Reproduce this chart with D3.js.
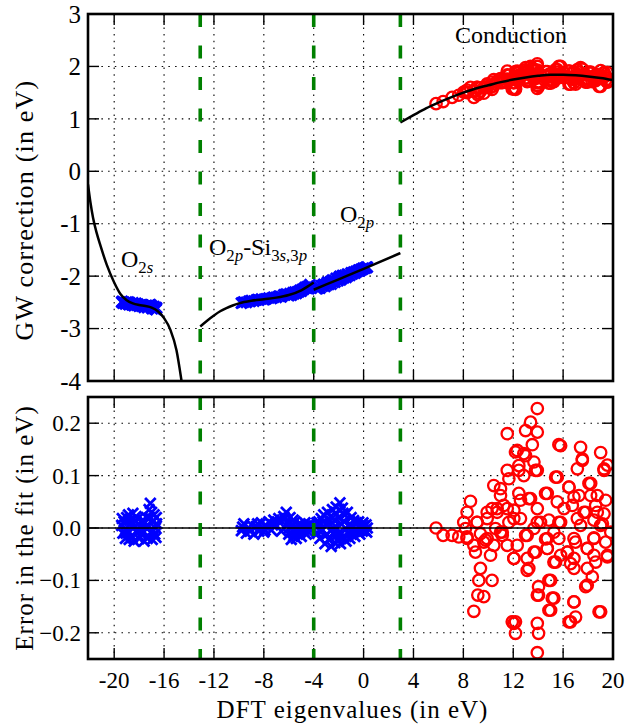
<!DOCTYPE html>
<html><head><meta charset="utf-8">
<script src="https://cdn.jsdelivr.net/npm/d3@7"></script>
<style>body{margin:0;background:#fff}</style>
</head><body><svg id="c" width="639" height="725"></svg>
<script>
// ---------- data ----------
const xTicks = [-20,-16,-12,-8,-4,0,4,8,12,16,20];
const gwTicks = [3,2,1,0,-1,-2,-3,-4];
const errTicks = [0.2,0.1,0.0,-0.1,-0.2];
const regionBounds = [-13.1,-4.0,2.95];

// fitted curves [DFT eigenvalue, GW correction]
const fitO2s = [[-22.1,-0.25],[-21.9,-0.6],[-21.7,-0.88],[-21.4,-1.18],[-21.1,-1.42],[-20.6,-1.78],[-20.0,-2.12],[-19.5,-2.34],[-19.0,-2.46],[-18.5,-2.52],[-18.0,-2.55],[-17.5,-2.57],[-17.0,-2.6],[-16.5,-2.67],[-16.0,-2.8],[-15.5,-3.02],[-15.0,-3.42],[-14.6,-4.0],[-14.3,-4.5]];
const fitO2pSi = [[-13.1,-2.96],[-12.5,-2.84],[-12.0,-2.75],[-11.5,-2.67],[-11.0,-2.61],[-10.5,-2.56],[-10.0,-2.52],[-9.0,-2.47],[-8.0,-2.44],[-7.0,-2.41],[-6.0,-2.36],[-5.0,-2.27],[-4.5,-2.2],[-4.0,-2.12]];
const fitO2p = [[-4.0,-2.26],[-2.0,-2.06],[0.0,-1.86],[2.95,-1.56]];
const fitCond = [[2.95,0.93],[4,1.07],[5,1.2],[6,1.31],[7,1.41],[8,1.5],[9,1.58],[10,1.64],[11,1.7],[12,1.75],[13,1.79],[14,1.82],[15,1.84],[16,1.84],[17,1.83],[18,1.81],[19,1.78],[20,1.74]];

// points [DFT eigenvalue, GW correction, error in fit]
const o2sPts = [[-19.4,-2.495,0.005],[-19.35,-2.482,0.018],[-19.3,-2.515,-0.01],[-19.2,-2.498,0.012],[-19.1,-2.53,-0.02],[-19.05,-2.523,-0.01],[-19.0,-2.495,0.02],[-18.9,-2.525,-0.005],[-18.85,-2.495,0.025],[-18.8,-2.547,-0.022],[-18.75,-2.51,0.015],[-18.7,-2.522,0.008],[-18.6,-2.545,-0.015],[-18.55,-2.55,-0.018],[-18.5,-2.507,0.028],[-18.45,-2.535,0.0],[-18.4,-2.565,-0.025],[-18.3,-2.528,0.012],[-18.25,-2.52,0.022],[-18.2,-2.553,-0.008],[-18.1,-2.532,0.018],[-18.0,-2.575,-0.02],[-17.95,-2.56,-0.005],[-17.9,-2.555,0.005],[-17.8,-2.572,-0.012],[-17.7,-2.55,0.015],[-17.65,-2.557,0.008],[-17.6,-2.595,-0.025],[-17.5,-2.57,0.002],[-17.4,-2.555,0.02],[-17.35,-2.597,-0.02],[-17.3,-2.595,-0.015],[-17.2,-2.55,0.035],[-17.15,-2.57,0.02],[-17.1,-2.543,0.047],[-17.05,-2.598,-0.008],[-17.0,-2.565,0.03],[-16.95,-2.622,-0.022],[-16.9,-2.588,0.012],[-16.85,-2.612,-0.005],[-16.8,-2.58,0.025],[-16.75,-2.622,-0.012],[-16.7,-2.615,0.0],[-16.65,-2.638,-0.018],[-16.62,-2.60,0.02],[-16.6,-2.612,0.008]];
const o2pSiPts = [[-9.8,-2.515,-0.005],[-9.7,-2.503,0.002],[-9.6,-2.492,0.008],[-9.4,-2.50,-0.01],[-9.2,-2.48,0.0],[-9.1,-2.481,-0.006],[-9.0,-2.464,0.006],[-8.8,-2.476,-0.012],[-8.6,-2.455,0.003],[-8.5,-2.447,0.008],[-8.4,-2.458,-0.006],[-8.2,-2.436,0.01],[-8.0,-2.448,-0.008],[-7.9,-2.441,-0.004],[-7.8,-2.43,0.004],[-7.6,-2.416,0.012],[-7.4,-2.426,-0.004],[-7.3,-2.413,0.006],[-7.2,-2.401,0.015],[-7.0,-2.405,0.005],[-6.8,-2.382,0.018],[-6.7,-2.385,0.01],[-6.6,-2.396,-0.006],[-6.4,-2.358,0.022],[-6.3,-2.357,0.018],[-6.2,-2.34,0.03],[-6.1,-2.355,0.01],[-6.0,-2.372,-0.012],[-5.95,-2.356,0.0],[-5.9,-2.332,0.02],[-5.8,-2.366,-0.022],[-5.7,-2.33,0.005],[-5.65,-2.315,0.015],[-5.6,-2.341,-0.015],[-5.5,-2.305,0.012],[-5.4,-2.328,-0.02],[-5.35,-2.311,-0.008],[-5.3,-2.299,0.0],[-5.2,-2.30,-0.01],[-5.1,-2.272,0.008],[-5.0,-2.286,-0.016],[-4.95,-2.263,0.0],[-4.9,-2.252,0.004],[-4.8,-2.248,-0.006],[-4.7,-2.218,0.01],[-4.65,-2.217,0.004],[-4.6,-2.226,-0.012],[-4.5,-2.198,0.002],[-4.4,-2.192,-0.008],[-4.3,-2.162,0.006]];
const o2pPts = [[-3.8,-2.236,0.004],[-3.75,-2.225,0.01],[-3.7,-2.24,-0.01],[-3.6,-2.208,0.012],[-3.55,-2.22,-0.005],[-3.5,-2.23,-0.02],[-3.4,-2.182,0.018],[-3.3,-2.194,-0.004],[-3.25,-2.172,0.012],[-3.2,-2.155,0.025],[-3.1,-2.199,-0.03],[-3.0,-2.151,0.008],[-2.95,-2.166,-0.012],[-2.9,-2.119,0.03],[-2.8,-2.161,-0.022],[-2.7,-2.115,0.014],[-2.65,-2.102,0.022],[-2.6,-2.154,-0.035],[-2.5,-2.074,0.035],[-2.45,-2.114,-0.01],[-2.4,-2.099,0.0],[-2.35,-2.079,0.015],[-2.3,-2.117,-0.028],[-2.2,-2.039,0.04],[-2.1,-2.081,-0.012],[-2.05,-2.089,-0.025],[-2.0,-2.039,0.02],[-1.95,-2.019,0.035],[-1.9,-2.001,0.048],[-1.85,-2.074,-0.03],[-1.8,-2.03,0.008],[-1.75,-2.043,-0.01],[-1.7,-1.99,0.038],[-1.65,-1.995,0.028],[-1.6,-2.036,-0.018],[-1.55,-2.001,0.012],[-1.5,-1.983,0.025],[-1.4,-2.023,-0.025],[-1.3,-1.958,0.03],[-1.25,-1.993,-0.01],[-1.2,-1.973,0.005],[-1.1,-1.988,-0.02],[-1.0,-1.938,0.02],[-0.95,-1.949,0.004],[-0.9,-1.956,-0.008],[-0.8,-1.924,0.014],[-0.7,-1.944,-0.016],[-0.65,-1.929,-0.006],[-0.6,-1.908,0.01],[-0.5,-1.912,-0.004],[-0.4,-1.885,0.012],[-0.35,-1.89,0.002],[-0.3,-1.899,-0.012],[-0.2,-1.871,0.006],[-0.1,-1.873,-0.006],[-0.05,-1.852,0.01],[0.0,-1.853,0.004],[0.1,-1.851,-0.004],[0.2,-1.831,0.006],[0.25,-1.84,-0.008],[0.3,-1.827,0.0]];
const condPts = [[5.81,1.29,0.0],[6.38,1.33,-0.014],[7.1,1.41,-0.014],[7.63,1.45,-0.017],[8.3,1.50,-0.02],[8.57,1.60,0.051],[8.3,1.55,0.03],[8.03,1.51,0.011],[9.1,1.60,0.011],[8.84,1.53,-0.033],[8.97,1.53,-0.046],[9.64,1.59,-0.027],[10.18,1.60,-0.052],[9.37,1.53,-0.077],[9.24,1.49,-0.1],[10.3,1.56,-0.1],[9.16,1.46,-0.128],[9.64,1.49,-0.131],[8.84,1.41,-0.159],[10.58,1.67,-0.001],[10.98,1.69,-0.008],[10.71,1.71,0.03],[10.98,1.77,0.075],[11.65,1.83,0.094],[11.52,1.91,0.18],[12.18,1.90,0.145],[12.05,1.69,-0.058],[11.92,1.57,-0.179],[12.18,1.56,-0.201],[11.24,1.76,0.043],[10.3,1.70,0.037],[12.05,1.79,0.034],[11.65,1.74,0.011],[11.12,1.69,-0.014],[9.91,1.61,-0.02],[8.17,1.51,-0.001],
[13.93,2.05,0.228],[13.39,2.00,0.202],[12.99,1.98,0.186],[13.93,2.00,0.183],[13.53,1.97,0.159],[15.66,2.00,0.159],[17.4,1.98,0.154],[19.01,1.92,0.144],[17.54,1.95,0.129],[19.28,1.88,0.113],[12.99,1.93,0.138],[12.45,1.89,0.119],[13.79,1.92,0.11],[12.85,1.88,0.1],[15.4,1.94,0.097],[16.47,1.91,0.078],[18.21,1.89,0.085],[12.45,1.83,0.066],[13.39,1.86,0.056],[14.59,1.90,0.066],[15.53,1.89,0.05],[16.74,1.88,0.043],[17.27,1.89,0.062],[17.81,1.84,0.03],[18.61,1.84,0.043],[19.28,1.80,0.027],[19.15,1.78,0.008],[18.47,1.81,0.015],[17.14,1.85,0.018],[15.66,1.85,0.011],[13.93,1.83,0.011],[14.86,1.85,0.015],[12.99,1.78,-0.014],[14.59,1.81,-0.021],[15.66,1.82,-0.02],[16.99,1.80,-0.027],[18.47,1.78,-0.019],[19.41,1.74,-0.027],[13.79,1.77,-0.046],[14.73,1.80,-0.039],[16.34,1.79,-0.046],[17.94,1.77,-0.039],[19.55,1.70,-0.055],[13.25,1.72,-0.077],[15.4,1.78,-0.065],[16.6,1.77,-0.068],[18.61,1.73,-0.065],[17.94,1.73,-0.077],[14.86,1.74,-0.1],[18.34,1.71,-0.093],[17.81,1.70,-0.112],[14.03,1.71,-0.112],[14.03,1.69,-0.128],[15.13,1.71,-0.134],[14.86,1.68,-0.157],[16.87,1.69,-0.141],[18.88,1.62,-0.16],[17.0,1.66,-0.17],[16.47,1.66,-0.179],[13.93,1.64,-0.182],[14.03,1.62,-0.201],[13.93,1.58,-0.238],[12.18,1.58,-0.179],
[10.44,1.75,0.081],[10.98,1.76,0.062],[11.52,1.84,0.11],[12.32,1.91,0.148],[12.85,1.93,0.142],[12.45,1.88,0.11],[13.93,1.93,0.11],[13.66,1.94,0.126],[14.73,1.90,0.066],[15.53,1.94,0.097],[16.47,1.91,0.078],[17.14,1.94,0.113],[17.54,1.95,0.132],[18.07,1.89,0.085],[18.74,1.85,0.062],[19.41,1.82,0.053],[19.55,1.88,0.12],[19.28,1.88,0.11],[18.74,1.82,0.03],[17.67,1.85,0.03],[15.8,1.85,0.011],[14.19,1.84,0.011],[12.58,1.79,0.018],[13.12,1.78,-0.014],[14.73,1.82,-0.02],[16.87,1.81,-0.02],[18.47,1.78,-0.02],[19.82,1.74,-0.008],[19.55,1.71,-0.052],[17.94,1.77,-0.039],[16.34,1.79,-0.046],[15.26,1.78,-0.065],[13.66,1.76,-0.046],[12.05,1.69,-0.058],[11.52,1.69,-0.033],[10.44,1.63,-0.033],[9.78,1.60,-0.023],[13.12,1.71,-0.081],[15.0,1.74,-0.1],[16.87,1.75,-0.077],[17.94,1.70,-0.109],[15.26,1.71,-0.134],[16.87,1.69,-0.141],[15.0,1.68,-0.157],[13.93,1.69,-0.128],[12.05,1.57,-0.182],[16.6,1.66,-0.179],[19.01,1.62,-0.16],[15.8,2.00,0.157],[11.12,1.70,-0.008],[9.91,1.65,0.018],[9.1,1.60,0.011],[9.37,1.59,-0.011],[8.3,1.51,-0.017],[12.05,1.77,0.018],[13.66,1.81,-0.001],[15.26,1.83,-0.008],[17.4,1.83,0.005],[19.01,1.79,0.005],[13.25,1.85,0.056],[12.58,1.83,0.053],[16.87,1.89,0.059],[18.21,1.87,0.062],[13.93,1.86,0.037],[16.07,1.88,0.037],[11.52,1.76,0.037],[10.71,1.72,0.037],[9.91,1.67,0.03],[14.73,1.80,-0.039],[15.8,1.79,-0.052],[18.47,1.74,-0.052],[16.87,1.77,-0.058],[13.12,1.74,-0.058],[12.32,1.73,-0.033]];

// ---------- layout ----------
const svg = d3.select('#c');
const L = 88, R = 613;
const top1 = 14, bot1 = 381, top2 = 397, bot2 = 659;
const FONT = "'Liberation Serif', 'Times New Roman', serif";
const x = d3.scaleLinear().domain([-22.1, 20]).range([L, R]);
const yTop = d3.scaleLinear().domain([-4, 3]).range([bot1, top1]);
const yBot = d3.scaleLinear().domain([-0.25, 0.25]).range([bot2, top2]);

const defs = svg.append('defs');
defs.append('clipPath').attr('id','clip1').append('rect').attr('x',L).attr('y',top1).attr('width',R-L).attr('height',bot1-top1);
defs.append('clipPath').attr('id','clip2').append('rect').attr('x',L).attr('y',top2).attr('width',R-L).attr('height',bot2-top2);

function drawPanel(y, yt, top, bot, clipId, yFmt, yFontSize, showX) {
  const g = svg.append('g');
  g.append('g').selectAll('line').data(xTicks).join('line')
    .attr('x1', d => x(d)).attr('x2', d => x(d)).attr('y1', top).attr('y2', bot)
    .attr('stroke','#000').attr('stroke-width',1.1).attr('stroke-dasharray','1.5,5.2');
  g.append('g').selectAll('line').data(yt).join('line')
    .attr('x1', L).attr('x2', R).attr('y1', d => y(d)).attr('y2', d => y(d))
    .attr('stroke','#000').attr('stroke-width',1.1).attr('stroke-dasharray','1.5,5.2');
  const tl = 11;
  const tk = g.append('g').attr('stroke','#000').attr('stroke-width',1.4);
  xTicks.forEach(d => {
    tk.append('line').attr('x1',x(d)).attr('x2',x(d)).attr('y1',bot).attr('y2',bot-tl);
    tk.append('line').attr('x1',x(d)).attr('x2',x(d)).attr('y1',top).attr('y2',top+tl);
  });
  yt.forEach(d => {
    tk.append('line').attr('x1',L).attr('x2',L+tl).attr('y1',y(d)).attr('y2',y(d));
    tk.append('line').attr('x1',R).attr('x2',R-tl).attr('y1',y(d)).attr('y2',y(d));
  });
  g.append('g').selectAll('text').data(yt).join('text')
    .attr('x', L - 7).attr('y', d => y(d)).attr('dy','0.35em')
    .attr('text-anchor','end').attr('font-family',FONT).attr('font-size',yFontSize)
    .text(yFmt);
  if (showX) {
    g.append('g').selectAll('text').data(xTicks).join('text')
      .attr('x', d => x(d)).attr('y', bot + 29)
      .attr('text-anchor','middle').attr('font-family',FONT).attr('font-size',23)
      .text(d => String(d));
  }
  return svg.append('g').attr('clip-path', `url(#${clipId})`);
}

function crosses(plot, pts, y, yi) {
  const s = 5.3;
  plot.append('g').selectAll('path').data(pts).join('path')
    .attr('d', d => {
      const cx = x(d[0]), cy = y(d[yi]);
      return `M${cx-s},${cy-s}L${cx+s},${cy+s}M${cx-s},${cy+s}L${cx+s},${cy-s}`;
    })
    .attr('stroke','#0000ff').attr('stroke-width',2.8).attr('fill','none');
}
function circles(plot, pts, y, yi) {
  plot.append('g').selectAll('circle').data(pts).join('circle')
    .attr('cx', d => x(d[0])).attr('cy', d => y(d[yi])).attr('r', 5.7)
    .attr('fill','none').attr('stroke','#ff0000').attr('stroke-width',2.3);
}
function vlines(plot, top, bot) {
  plot.append('g').selectAll('line').data(regionBounds).join('line')
    .attr('x1', d => x(d)).attr('x2', d => x(d)).attr('y1', top).attr('y2', bot)
    .attr('stroke','#008000').attr('stroke-width',3.6).attr('stroke-dasharray','13,18.5');
}
function frame(top, bot) {
  svg.append('rect').attr('x',L).attr('y',top).attr('width',R-L).attr('height',bot-top)
    .attr('fill','none').attr('stroke','#000').attr('stroke-width',2.6);
}

// ---------- top panel ----------
const p1 = drawPanel(yTop, gwTicks, top1, bot1, 'clip1', d => String(d), 25, false);
[o2sPts, o2pSiPts, o2pPts].forEach(pts => crosses(p1, pts, yTop, 1));
circles(p1, condPts, yTop, 1);
const line1 = d3.line().x(d => x(d[0])).y(d => yTop(d[1])).curve(d3.curveMonotoneX);
[fitO2s, fitO2pSi, fitO2p, fitCond].forEach(f => {
  p1.append('path').attr('d', line1(f)).attr('fill','none').attr('stroke','#000').attr('stroke-width',2.5);
});
vlines(p1, top1, bot1);
frame(top1, bot1);

// ---------- bottom panel ----------
const p2 = drawPanel(yBot, errTicks, top2, bot2, 'clip2', d => d3.format('.1f')(d), 23, true);
[o2sPts, o2pSiPts, o2pPts].forEach(pts => crosses(p2, pts, yBot, 2));
circles(p2, condPts, yBot, 2);
p2.append('line').attr('x1',L).attr('x2',R).attr('y1',yBot(0)).attr('y2',yBot(0))
  .attr('stroke','#000').attr('stroke-width',1.6);
vlines(p2, top2, bot2);
frame(top2, bot2);

// ---------- annotations ----------
function rich(xp, yp, parts, size) {
  const t = svg.append('text').attr('x',xp).attr('y',yp).attr('font-family',FONT).attr('font-size',size);
  let sub = false;
  parts.forEach(([txt, isSub, it]) => {
    const ts = t.append('tspan').text(txt);
    if (isSub && !sub) ts.attr('dy', 6);
    if (!isSub && sub) ts.attr('dy', -6);
    ts.attr('font-size', isSub ? size*0.7 : size);
    if (it) ts.attr('font-style','italic');
    sub = isSub;
  });
  return t;
}
rich(121, 267, [['O',false],['2',true],['s',true,true]], 24);
rich(209, 255, [['O',false],['2',true],['p',true,true],['-Si',false],['3',true],['s',true,true],[',3',true],['p',true,true]], 24);
rich(340, 222, [['O',false],['2',true],['p',true,true]], 24);
svg.append('text').attr('x',455).attr('y',43).attr('font-family',FONT).attr('font-size',24).text('Conduction');

svg.append('text').attr('transform','translate(33,210) rotate(-90)').attr('text-anchor','middle')
  .attr('font-family',FONT).attr('font-size',26).attr('letter-spacing',1.2).text('GW correction (in eV)');
svg.append('text').attr('transform','translate(33,528) rotate(-90)').attr('text-anchor','middle')
  .attr('font-family',FONT).attr('font-size',25).attr('letter-spacing',1).text('Error in the fit (in eV)');
svg.append('text').attr('x',(L+R)/2+2).attr('y',718).attr('text-anchor','middle')
  .attr('font-family',FONT).attr('font-size',25).attr('letter-spacing',1).text('DFT eigenvalues (in eV)');
</script></body></html>
